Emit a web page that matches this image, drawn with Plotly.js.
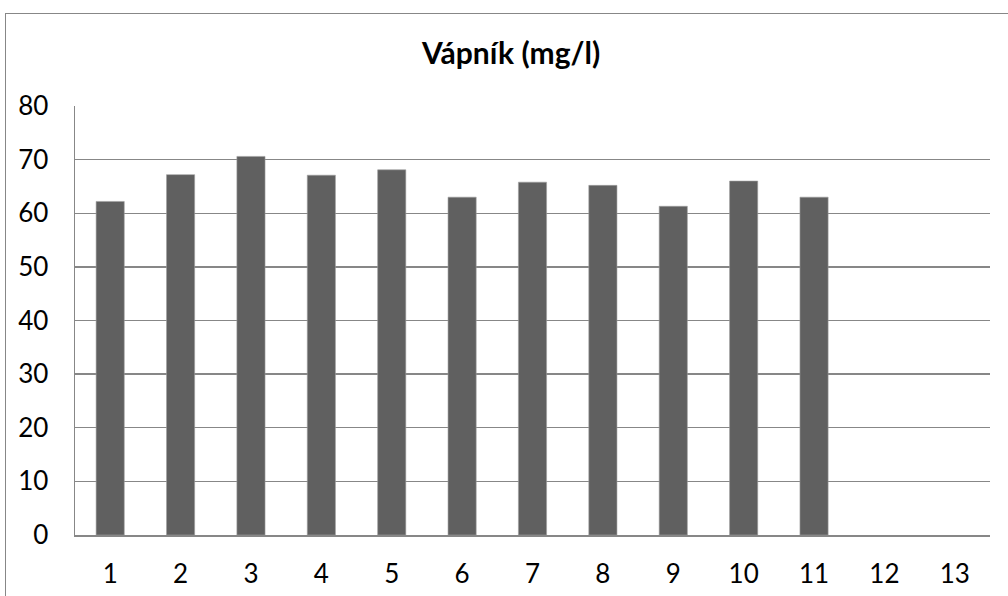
<!DOCTYPE html>
<html><head><meta charset="utf-8">
<script src="https://cdn.plot.ly/plotly-3.0.1.min.js"></script>
<style>
body{margin:0;background:#fff;}
#wrap{position:relative;width:1008px;height:596px;}
#chart{width:1008px;height:596px;}
#frame{position:absolute;left:5px;top:13px;width:1100px;height:700px;border:1.5px solid #878787;pointer-events:none;box-sizing:border-box;}
</style></head>
<body>
<div id="wrap"><div id="chart"></div><div id="frame"></div></div>
<script>
const categories = [1,2,3,4,5,6,7,8,9,10,11,12,13];
const barCategories = [1,2,3,4,5,6,7,8,9,10,11];
const calcium = [62.2, 67.2, 70.6, 67.1, 68.1, 63.0, 65.8, 65.2, 61.3, 66.0, 63.0];
const yTicks = [0,10,20,30,40,50,60,70,80];
const chartTitle = 'Vápník (mg/l)';

const font = "Lato, 'Open Sans', sans-serif";
Plotly.newPlot('chart', [{
  type: 'bar',
  x: barCategories,
  y: calcium,
  marker: {color: '#606060', line: {color: '#a0a0a0', width: 0.6}},
  hoverinfo: 'x+y'
}], {
  width: 1008, height: 596,
  margin: {l: 75, r: 18, t: 106, b: 61},
  paper_bgcolor: '#fff', plot_bgcolor: '#fff',
  bargap: 0.6,
  showlegend: false,
  title: {text: '<b>' + chartTitle + '</b>', x: 0.507, xref: 'container', xanchor: 'center', y: 0.91, yref: 'container', yanchor: 'middle',
          font: {family: font, size: 30, color: '#000'}},
  xaxis: {
    range: [0.5, 13.5], tickvals: categories, ticktext: categories.map(String),
    showgrid: false, zeroline: false, showline: true, linecolor: '#878787', linewidth: 1.5,
    ticks: '', ticklabelstandoff: 15,
    tickfont: {family: font, size: 26, color: '#000'}
  },
  yaxis: {
    range: [0, 80], tickvals: yTicks, showgrid: true, gridcolor: '#878787', gridwidth: 1.3,
    zeroline: false, showline: true, linecolor: '#878787', linewidth: 1.5,
    ticks: '', ticklabelstandoff: 20,
    tickfont: {family: font, size: 26, color: '#000'}
  }
}, {displayModeBar: false, staticPlot: true});
</script>
</body></html>
